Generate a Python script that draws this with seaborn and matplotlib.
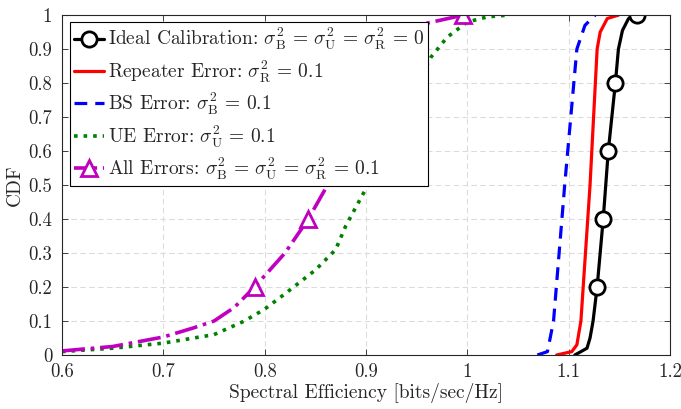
import numpy as np
import pandas as pd
import matplotlib
matplotlib.use("Agg")
import matplotlib.pyplot as plt
from matplotlib.ticker import FormatStrFormatter
import seaborn as sns

# ----------------------------
# data
# ----------------------------
ideal_x = [1.106, 1.118, 1.121, 1.124, 1.128, 1.134, 1.139, 1.146, 1.149, 1.153, 1.159, 1.167]
ideal_y = [0.0, 0.02, 0.05, 0.1, 0.2, 0.4, 0.6, 0.8, 0.9, 0.955, 0.99, 1.0]
ideal_marks = [4, 5, 6, 7, 11]

rep_x = [1.088, 1.103, 1.108, 1.112, 1.121, 1.128, 1.131, 1.138, 1.149]
rep_y = [0.0, 0.01, 0.03, 0.1, 0.5, 0.9, 0.95, 0.99, 1.0]

bs_x = [1.069, 1.079, 1.085, 1.096, 1.108, 1.116, 1.126]
bs_y = [0.0, 0.01, 0.1, 0.5, 0.9, 0.97, 1.0]

ue_x = [0.6, 0.65, 0.7, 0.75, 0.78, 0.8, 0.82, 0.85, 0.87, 0.88, 0.9, 0.93, 0.964, 0.98, 1.0, 1.02, 1.04]
ue_y = [0.01, 0.02, 0.035, 0.06, 0.1, 0.135, 0.18, 0.25, 0.31, 0.38, 0.49, 0.68, 0.876, 0.935, 0.98, 0.995, 1.0]

all_x = [0.6, 0.65, 0.7, 0.73, 0.75, 0.77, 0.79, 0.82, 0.843, 0.862, 0.875, 0.9, 0.93, 0.958, 0.996]
all_y = [0.012, 0.025, 0.053, 0.08, 0.1, 0.14, 0.2, 0.3, 0.4, 0.5, 0.6, 0.75, 0.89, 0.975, 1.0]
all_marks = [6, 8, 10, 14]

x_ticks = [0.6, 0.7, 0.8, 0.9, 1.0, 1.1, 1.2]
y_ticks = [0, 0.1, 0.2, 0.3, 0.4, 0.5, 0.6, 0.7, 0.8, 0.9, 1.0]

# ----------------------------
# style
# ----------------------------
sns.set_style("ticks")
plt.rcParams["font.family"] = ["cmr10", "DejaVu Serif"]
plt.rcParams["mathtext.fontset"] = "cm"
plt.rcParams["axes.formatter.use_mathtext"] = True

fig = plt.figure(figsize=(6.81, 4.09), dpi=100)
ax = fig.add_axes([0.091, 0.132, 0.893, 0.831])

lw = 2.3
eq = r"\,=\,"
sns.lineplot(x=ideal_x, y=ideal_y, ax=ax, color="black", lw=lw, marker="o",
             markevery=ideal_marks, markersize=11, markerfacecolor="white",
             markeredgecolor="black", markeredgewidth=2, sort=False,
             label=r"Ideal Calibration: $\sigma^2_{\rm B}" + eq + r"\sigma^2_{\rm U}" + eq + r"\sigma^2_{\rm R}" + eq + "0$")
sns.lineplot(x=rep_x, y=rep_y, ax=ax, color="red", lw=lw, sort=False,
             label=r"Repeater Error: $\sigma^2_{\rm R}" + eq + "0.1$")
sns.lineplot(x=bs_x, y=bs_y, ax=ax, color="blue", lw=lw, sort=False,
             dashes=(4, 2.5), label=r"BS Error: $\sigma^2_{\rm B}" + eq + "0.1$")
sns.lineplot(x=ue_x, y=ue_y, ax=ax, color="green", lw=lw + 0.3, sort=False,
             linestyle=":", label=r"UE Error: $\sigma^2_{\rm U}" + eq + "0.1$")
sns.lineplot(x=all_x, y=all_y, ax=ax, color="#c000c0", lw=lw + 0.3, sort=False,
             linestyle="-.", marker="^", markevery=all_marks, markersize=11,
             markerfacecolor="white", markeredgecolor="#c000c0", markeredgewidth=2,
             label=r"All Errors: $\sigma^2_{\rm B}" + eq + r"\sigma^2_{\rm U}" + eq + r"\sigma^2_{\rm R}" + eq + "0.1$")

ax.set_xlim(0.6, 1.2)
ax.set_ylim(0, 1)
ax.set_xticks(x_ticks)
ax.set_yticks(y_ticks)
ax.xaxis.set_major_formatter(FormatStrFormatter("%g"))
ax.yaxis.set_major_formatter(FormatStrFormatter("%g"))
ax.tick_params(direction="in", top=True, right=True, labelsize=13.5, length=4,
               width=0.6, colors="#262626")
ax.tick_params(axis="x", pad=6)
ax.tick_params(axis="y", pad=7)
ax.grid(True, linestyle=(0, (5, 3)), color="#dcdcdc", linewidth=0.8)
for s in ax.spines.values():
    s.set_visible(True)
    s.set_color("#262626")
    s.set_linewidth(0.8)
ax.set_axisbelow(True)

ax.set_xlabel("Spectral Efficiency [bits/sec/Hz]", fontsize=14, labelpad=1)
ax.set_ylabel("CDF", fontsize=14, labelpad=3)

leg = ax.legend(loc="upper left", bbox_to_anchor=(0.013, 0.979), borderaxespad=0,
                fontsize=14, frameon=True, fancybox=False, framealpha=1,
                edgecolor="black", handlelength=1.55, handletextpad=0.2,
                borderpad=0.2, labelspacing=0.32)
leg.get_frame().set_linewidth(0.8)
leg.set_zorder(10)

fig.savefig("out.png", dpi=100)
